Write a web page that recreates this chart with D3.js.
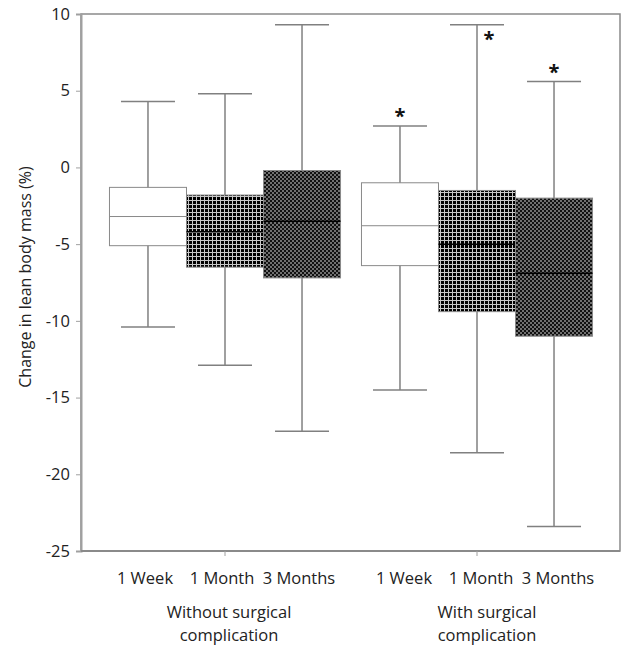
<!DOCTYPE html>
<html><head><meta charset="utf-8">
<script src="https://cdn.jsdelivr.net/npm/d3@7"></script>
<style>body{margin:0;background:#fff;}</style>
</head><body>
<script>
const groups = ["Without surgical complication", "With surgical complication"];
const groupLines = [["Without surgical", "complication"], ["With surgical", "complication"]];
const timepoints = ["1 Week", "1 Month", "3 Months"];
// [min, q1, median, q3, max] for each group x timepoint
const withoutStats = [
  [-10.4, -5.1, -3.2, -1.3, 4.3],
  [-12.9, -6.5, -4.2, -1.8, 4.8],
  [-17.2, -7.2, -3.5, -0.2, 9.3]
];
const withStats = [
  [-14.5, -6.4, -3.8, -1.0, 2.7],
  [-18.6, -9.4, -5.0, -1.5, 9.3],
  [-23.4, -11.0, -6.9, -2.0, 5.6]
];
const significant = [[false, false, false], [true, true, true]];
// asterisk centre (value units) for significant boxes
const starValues = [[null, null, null], [3.6, 8.65, 6.5]];
const yTicks = [10, 5, 0, -5, -10, -15, -20, -25];

(function () {
const W = 622, H = 645;
const pl = 81, pr = 620, pt = 14, pb = 551;
const FS = 16.5;
const svg = d3.select("body").append("svg").attr("width", W).attr("height", H)
  .style("font-family", "'Open Sans', sans-serif");

const defs = svg.append("defs");
const grid = defs.append("pattern").attr("id", "grid").attr("patternUnits", "userSpaceOnUse")
  .attr("width", 4).attr("height", 4);
grid.append("rect").attr("width", 4).attr("height", 4).attr("fill", "#000");
grid.append("rect").attr("x", 0).attr("y", 0).attr("width", 1).attr("height", 4).attr("fill", "#c8c8c8");
grid.append("rect").attr("x", 0).attr("y", 0).attr("width", 4).attr("height", 1).attr("fill", "#c8c8c8");
const check = defs.append("pattern").attr("id", "check").attr("patternUnits", "userSpaceOnUse")
  .attr("width", 4).attr("height", 4);
check.append("rect").attr("width", 4).attr("height", 4).attr("fill", "#111");
check.append("rect").attr("x", 0).attr("y", 0).attr("width", 2).attr("height", 2).attr("fill", "#707070");
check.append("rect").attr("x", 2).attr("y", 2).attr("width", 2).attr("height", 2).attr("fill", "#707070");
const fills = ["#fff", "url(#grid)", "url(#check)"];

const y = d3.scaleLinear().domain([-25, 10]).range([pb, pt]);
const xg = d3.scaleBand().domain(groups).range([99, 603]);
const xt = d3.scaleBand().domain(timepoints).range([0, xg.bandwidth()]).paddingOuter(0.136);
const labelShift = [-3, 4];
const groupShift = [4, 10];

// frame
svg.append("rect").attr("x", pl).attr("y", pt).attr("width", pr - pl).attr("height", pb - pt)
  .attr("fill", "none").attr("stroke", "#8a8a8a").attr("stroke-width", 1.5);

// y axis
const yAxis = svg.append("g").attr("transform", `translate(${pl},0)`)
  .call(d3.axisLeft(y).tickValues(yTicks).tickSize(5).tickPadding(6).tickFormat(d3.format("d")));
yAxis.select(".domain").attr("stroke", "#a0a0a0").attr("stroke-width", 2);
yAxis.selectAll(".tick line").attr("stroke", "#a0a0a0");
yAxis.selectAll(".tick text").attr("font-size", FS).attr("fill", "#222")
  .style("font-family", "'Open Sans', sans-serif")
  .text(d => d < 0 ? "-" + Math.abs(d) : d);

// x axis
svg.append("line").attr("x1", pl).attr("x2", pr).attr("y1", pb).attr("y2", pb)
  .attr("stroke", "#8a8a8a").attr("stroke-width", 2);
groups.forEach(g => {
  const cx = xg(g) + xg.bandwidth() / 2;
  svg.append("line").attr("x1", cx).attr("x2", cx).attr("y1", pb).attr("y2", pb + 5)
    .attr("stroke", "#a0a0a0");
});

const allStats = [withoutStats, withStats];
const capW = 54;
groups.forEach((g, gi) => {
  timepoints.forEach((t, ti) => {
    const s = allStats[gi][ti];
    const x0 = xg(g) + xt(t), bw = xt.bandwidth(), cx = x0 + bw / 2;
    const gg = svg.append("g");
    gg.append("line").attr("x1", cx).attr("x2", cx).attr("y1", y(s[4])).attr("y2", y(s[0]))
      .attr("stroke", "#808080").attr("stroke-width", 1.5);
    gg.append("line").attr("x1", cx - capW / 2).attr("x2", cx + capW / 2).attr("y1", y(s[4])).attr("y2", y(s[4]))
      .attr("stroke", "#808080").attr("stroke-width", 1.5);
    gg.append("line").attr("x1", cx - capW / 2).attr("x2", cx + capW / 2).attr("y1", y(s[0])).attr("y2", y(s[0]))
      .attr("stroke", "#808080").attr("stroke-width", 1.5);
    gg.append("rect").attr("x", x0).attr("y", y(s[3])).attr("width", bw).attr("height", y(s[1]) - y(s[3]))
      .attr("fill", fills[ti]).attr("stroke", "#8a8a8a").attr("stroke-width", 1);
    gg.append("line").attr("x1", x0).attr("x2", x0 + bw).attr("y1", y(s[2])).attr("y2", y(s[2]))
      .attr("stroke", ti === 0 ? "#8a8a8a" : "#000").attr("stroke-width", ti === 0 ? 1 : 1.5);
    svg.append("text").attr("x", cx + labelShift[gi]).attr("y", 584).attr("text-anchor", "middle")
      .attr("font-size", FS).attr("fill", "#222").text(t);
  });
});

// significance asterisks
const starDx = [[0, 0, 0], [0, 12, 0]];
groups.forEach((g, gi) => {
  timepoints.forEach((t, ti) => {
    if (!significant[gi][ti]) return;
    const cx = xg(g) + xt(t) + xt.bandwidth() / 2;
    svg.append("text").attr("x", cx + starDx[gi][ti]).attr("y", y(starValues[gi][ti]) + 11)
      .attr("text-anchor", "middle").attr("font-size", 20).attr("font-weight", "bold")
      .attr("fill", "#111").text("*");
  });
});

groups.forEach((g, gi) => {
  const cx = xg(g) + xg.bandwidth() / 2 + groupShift[gi];
  groupLines[gi].forEach((line, li) => {
    svg.append("text").attr("x", cx).attr("y", 618 + li * 23).attr("text-anchor", "middle")
      .attr("font-size", FS).attr("fill", "#222").text(line);
  });
});

svg.append("text").attr("transform", "translate(31,277) rotate(-90)").attr("text-anchor", "middle")
  .attr("font-size", 16).attr("fill", "#222").text("Change in lean body mass (%)");
})();
</script>
</body></html>
